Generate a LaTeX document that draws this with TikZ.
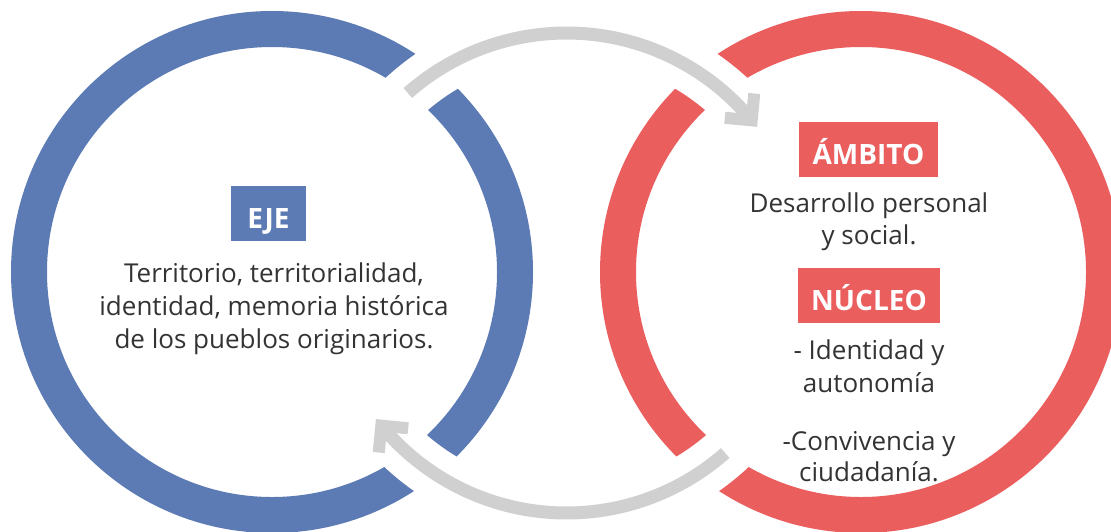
\documentclass[tikz,border=0pt]{standalone}
\usepackage{fontspec}
\setmainfont{Open Sans}
\definecolor{ringblue}{HTML}{5C7BB4}
\definecolor{ringred}{HTML}{EB5E5E}
\definecolor{arrowgray}{HTML}{D0D0D0}
\definecolor{textgray}{HTML}{333333}
\begin{document}
\begin{tikzpicture}[x=1pt,y=1pt,
  ring/.style={line width=36pt},
  gapband/.style={white,line width=52pt},
  grayarc/.style={arrowgray,line width=13pt},
  chevron/.style={arrowgray,line width=12pt,miter limit=10,line join=miter},
  labelbox/.style={fill=#1,text=white,inner sep=0pt,minimum height=55pt,text height=30pt,text depth=0pt,font=\fontsize{28}{28}\selectfont\bfseries},
  body/.style={text=textgray,inner sep=0pt,anchor=base,font=\fontsize{26}{33}\selectfont}]
\useasboundingbox (0,0) rectangle (1111,-531);
\coordinate (bc) at (272,-272);
\coordinate (rc) at (861,-272);
\coordinate (gc) at (566.5,-273);
% rings
\draw[ring,ringblue] (bc) circle[radius=243pt];
\draw[ring,ringred] (rc) circle[radius=243pt];
% white gaps where the arrows pass
\draw[gapband] ([shift={(141:240pt)}]gc) arc[start angle=141,end angle=37,radius=240pt];
\draw[gapband] ([shift={(-41:240pt)}]gc) arc[start angle=-41,end angle=-143,radius=240pt];
% arrows
\coordinate (t1) at ([shift={(131.4:240pt)}]gc);
\coordinate (h1) at ([shift={(39.5:240pt)}]gc);
\coordinate (t2) at ([shift={(-48.6:240pt)}]gc);
\coordinate (h2) at ([shift={(-140.5:240pt)}]gc);
\draw[grayarc] (t1) arc[start angle=131.4,end angle=39.5,radius=240pt];
\draw[chevron] ([shift={(84.5:27pt)}]h1) -- (h1) -- ([shift={(174.5:27pt)}]h1);
\draw[grayarc] (t2) arc[start angle=-48.6,end angle=-140.5,radius=240pt];
\draw[chevron] ([shift={(-95.5:27pt)}]h2) -- (h2) -- ([shift={(-5.5:27pt)}]h2);
% label boxes
\node[labelbox=ringblue,minimum width=75pt] (eje) at (268.5,-213.5) {EJE};
\node[labelbox=ringred,minimum width=139pt] (ambito) at (868.5,-149.5) {ÁMBITO};
\node[labelbox=ringred,minimum width=142pt] (nucleo) at (869,-295) {NÚCLEO};
% texts
\node[body] (b1) at (274,-282) {Territorio, territorialidad,};
\node[body] (b2) at (274,-315) {identidad, memoria histórica};
\node[body] (b3) at (274,-348) {de los pueblos originarios.};
\node[body] (r1) at (869,-212) {Desarrollo personal};
\node[body] (r2) at (869,-244) {y social.};
\node[body] (r3) at (869,-359) {- Identidad y};
\node[body] (r4) at (869,-392) {autonomía};
\node[body] (r5) at (869,-450) {-Convivencia y};
\node[body] (r6) at (869,-481) {ciudadanía.};
\end{tikzpicture}
\end{document}
